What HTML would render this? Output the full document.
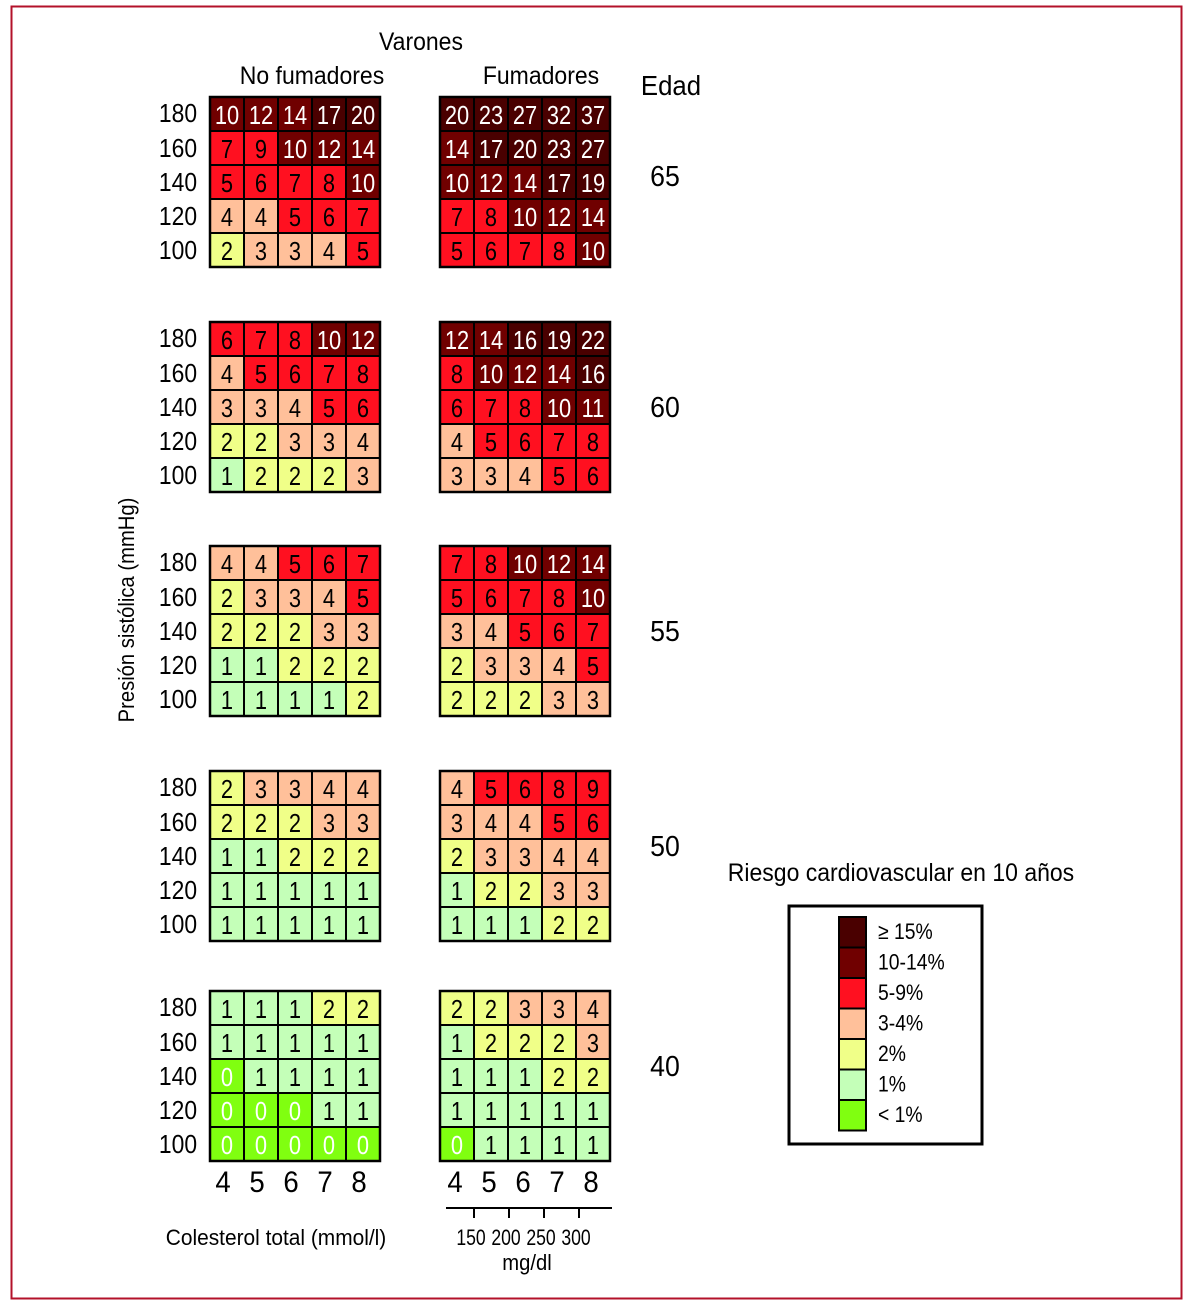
<!DOCTYPE html>
<html><head><meta charset="utf-8">
<style>
html,body{margin:0;padding:0;background:#fff;}
svg{display:block;}
text{font-family:"Liberation Sans Narrow","Liberation Sans",sans-serif;}
</style></head>
<body>
<svg id="chart" width="1188" height="1308" viewBox="0 0 1188 1308" xmlns="http://www.w3.org/2000/svg">
<rect x="11.5" y="6.5" width="1170" height="1292" fill="#fff" stroke="#b3112a" stroke-width="2"/>
<text x="421" y="50" font-size="25" text-anchor="middle">Varones</text>
<text x="312" y="84" font-size="25" text-anchor="middle">No fumadores</text>
<text x="541" y="84" font-size="25" text-anchor="middle">Fumadores</text>
<text x="671" y="95" font-size="28" text-anchor="middle">Edad</text>
<text transform="translate(134,610) rotate(-90) scale(0.92,1)" font-size="22" text-anchor="middle" x="0" y="0">Presión sistólica  (mmHg)</text>
<text x="276" y="1245" font-size="22" text-anchor="middle" data-sx="0.95">Colesterol total (mmol/l)</text>
<text x="527" y="1270" font-size="22" text-anchor="middle">mg/dl</text>
<line x1="446" y1="1208" x2="612" y2="1208" stroke="#000" stroke-width="2"/>
<text x="901" y="881" font-size="25" text-anchor="middle">Riesgo cardiovascular en 10 años</text>
<rect x="789" y="906" width="193" height="238" fill="#fff" stroke="#000" stroke-width="3"/>
<g id="g"></g>
</svg>
<script>
const ages = ["65","60","55","50","40"];
const sbpTicks = ["180","160","140","120","100"];
const cholTicks = ["4","5","6","7","8"];
const mgdlTicks = ["150","200","250","300"];
const nonSmokers = [
 [[10,12,14,17,20],[7,9,10,12,14],[5,6,7,8,10],[4,4,5,6,7],[2,3,3,4,5]],
 [[6,7,8,10,12],[4,5,6,7,8],[3,3,4,5,6],[2,2,3,3,4],[1,2,2,2,3]],
 [[4,4,5,6,7],[2,3,3,4,5],[2,2,2,3,3],[1,1,2,2,2],[1,1,1,1,2]],
 [[2,3,3,4,4],[2,2,2,3,3],[1,1,2,2,2],[1,1,1,1,1],[1,1,1,1,1]],
 [[1,1,1,2,2],[1,1,1,1,1],[0,1,1,1,1],[0,0,0,1,1],[0,0,0,0,0]]
];
const smokers = [
 [[20,23,27,32,37],[14,17,20,23,27],[10,12,14,17,19],[7,8,10,12,14],[5,6,7,8,10]],
 [[12,14,16,19,22],[8,10,12,14,16],[6,7,8,10,11],[4,5,6,7,8],[3,3,4,5,6]],
 [[7,8,10,12,14],[5,6,7,8,10],[3,4,5,6,7],[2,3,3,4,5],[2,2,2,3,3]],
 [[4,5,6,8,9],[3,4,4,5,6],[2,3,3,4,4],[1,2,2,3,3],[1,1,1,2,2]],
 [[2,2,3,3,4],[1,2,2,2,3],[1,1,1,2,2],[1,1,1,1,1],[0,1,1,1,1]]
];
const legendLabels = ["≥ 15%","10-14%","5-9%","3-4%","2%","1%","< 1%"];
const legendColors = ["#4a0000","#700000","#ff1020","#ffc09a","#f0ff88","#c4ffb8","#80ff10"];

const NS="http://www.w3.org/2000/svg";
const g=document.getElementById('g');
function el(t,a,txt){const e=document.createElementNS(NS,t);for(const k in a)e.setAttribute(k,a[k]);if(txt!==undefined)e.textContent=txt;g.appendChild(e);return e;}
function color(v){return v>=15?legendColors[0]:v>=10?legendColors[1]:v>=5?legendColors[2]:v>=3?legendColors[3]:v>=2?legendColors[4]:v>=1?legendColors[5]:legendColors[6];}
const gridTops=[97,322,546,771,991];
const cw=34, ch=34;
const panelX=[210,440];
function xCell(p,c){return panelX[p]+c*cw;}
function yCell(a,r){return gridTops[a]+r*ch;}
[nonSmokers,smokers].forEach((set,p)=>{
 set.forEach((grid,a)=>{
  grid.forEach((row,r)=>{
   row.forEach((v,c)=>{
    const x=xCell(p,c), y=yCell(a,r);
    const rc=el('rect',{x:x,y:y,width:cw,height:ch,fill:color(v),stroke:'#000','stroke-width':2});
    
    
    const t=el('text',{x:x+cw/2,y:y+ch/2+10,'font-size':26,'text-anchor':'middle',fill:(v>=10||v===0)?'#fff':'#000','data-sx':0.84},String(v));
    
    
   });
  });
  const fr=el('rect',{x:panelX[p],y:gridTops[a],width:cw*5,height:ch*5,fill:'none',stroke:'#000','stroke-width':2.5});
  
  
 });
});
ages.forEach((ag,a)=>{
 const t=el('text',{x:665,y:gridTops[a]+ch*2.5+10+ (a==0?-6:(a==3?-10:(a==4?-10:0))),'font-size':29,'text-anchor':'middle'},ag);
 
 
 sbpTicks.forEach((s,r)=>{
  const tt=el('text',{x:178,y:yCell(a,r)+ch/2+9 - (r==0?1:0),'font-size':26,'text-anchor':'middle','data-sx':0.88},s);
  
  
 });
});
[0,1].forEach(p=>{
 cholTicks.forEach((c,i)=>{
  const t=el('text',{x:xCell(p,i)+cw/2-(p==0?4:0)+(p==1?-2:0),y:1192,'font-size':30,'text-anchor':'middle'},c);
  
  
 });
});
mgdlTicks.forEach((m,i)=>{
 const x=474+i*35;
 const l=el('line',{x1:x,y1:1208,x2:x,y2:1218,stroke:'#000','stroke-width':2});
 
 
 const t=el('text',{x:x-3,y:1245,'font-size':22,'text-anchor':'middle','data-sx':0.8},m);
 
 
});
legendLabels.forEach((lab,i)=>{
 const y=917+i*30.5;
 const r=el('rect',{x:839,y:y,width:27,height:30.5,fill:legendColors[i],stroke:'#000','stroke-width':2});
 
 
 const t=el('text',{x:878,y:y+22,'font-size':22,'text-anchor':'start','data-sx':0.88},lab);
 
 
});
// condense horizontal text to mimic a narrow typeface
document.querySelectorAll('#chart text').forEach(t=>{
 if(t.hasAttribute('transform'))return;
 const x=parseFloat(t.getAttribute('x'));
 const s=t.getAttribute('data-sx')||'0.92';
 t.setAttribute('transform','translate('+x+',0) scale('+s+',1) translate('+(-x)+',0)');
});
</script>
</body></html>
